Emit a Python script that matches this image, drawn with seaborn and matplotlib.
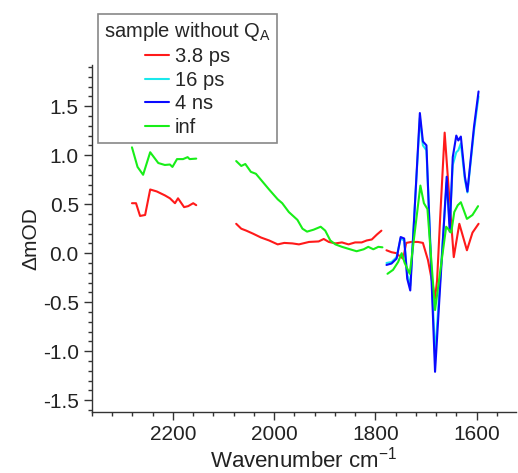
import pandas as pd
import seaborn as sns
import matplotlib.pyplot as plt
from matplotlib.ticker import MultipleLocator

# series labels and colours (legend order)
LABELS = ["3.8 ps", "16 ps", "4 ns", "inf"]
COLORS = {"3.8 ps": "#ff1a1a", "16 ps": "#1ae8ec", "4 ns": "#0a0aff", "inf": "#18ee18"}

# --- segment 1 (2280-2150 cm-1) ---
WN_RED_1 = [2281, 2273, 2265, 2255, 2245, 2232, 2216, 2206, 2196, 2190, 2178, 2170, 2160, 2154]
RED_1 = [0.51, 0.51, 0.38, 0.39, 0.65, 0.63, 0.59, 0.56, 0.51, 0.56, 0.47, 0.48, 0.51, 0.49]
WN_GRN_1 = [2281, 2270, 2259, 2245, 2229, 2216, 2206, 2201, 2192, 2180, 2171, 2167, 2154]
GRN_1 = [1.08, 0.88, 0.80, 1.03, 0.92, 0.90, 0.905, 0.88, 0.96, 0.96, 0.98, 0.96, 0.965]

# --- segment 2 (2075-1785 cm-1) ---
WN_RED_2 = [2075, 2065, 2055, 2042, 2026, 2010, 1993, 1980, 1964, 1951, 1931, 1912,
            1902, 1892, 1879, 1866, 1853, 1840, 1827, 1817, 1807, 1797, 1788]
RED_2 = [0.30, 0.25, 0.23, 0.20, 0.16, 0.13, 0.09, 0.105, 0.10, 0.09, 0.115, 0.12,
         0.145, 0.115, 0.10, 0.11, 0.09, 0.11, 0.11, 0.13, 0.14, 0.19, 0.23]
WN_GRN_2 = [2075, 2065, 2057, 2046, 2036, 2023, 2010, 1993, 1984, 1971, 1954, 1944, 1935,
            1922, 1908, 1899, 1889, 1879, 1866, 1850, 1837, 1823, 1814, 1804, 1794, 1786]
GRN_2 = [0.94, 0.89, 0.91, 0.83, 0.81, 0.73, 0.65, 0.55, 0.51, 0.42, 0.34, 0.25, 0.22,
         0.24, 0.27, 0.23, 0.13, 0.09, 0.065, 0.04, 0.02, 0.04, 0.065, 0.04, 0.065, 0.06]

# --- segment 3 (1778-1595 cm-1) ---
WN_RED_3 = [1778, 1768, 1758, 1752, 1745, 1739, 1729, 1716, 1706, 1696, 1686, 1682,
            1678, 1672, 1663, 1655, 1645, 1634, 1619, 1608, 1596]
RED_3 = [0.03, 0.01, 0.0, -0.03, -0.055, 0.105, 0.115, 0.115, 0.105, -0.07, -0.34, -0.46,
         -0.28, 0.35, 1.23, 0.65, -0.04, 0.30, 0.03, 0.21, 0.30]
WN_BLU_3 = [1778, 1768, 1758, 1750, 1743, 1737, 1731, 1712, 1706, 1699, 1682, 1659,
            1653, 1647, 1640, 1636, 1631, 1623, 1618, 1605, 1596]
CYN_3 = [-0.10, -0.09, -0.04, 0.15, 0.13, -0.22, -0.33, 1.38, 1.10, 1.05, -1.05, 0.72,
         0.30, 0.90, 1.03, 1.05, 1.12, 0.75, 0.62, 1.25, 1.60]
BLU_3 = [-0.12, -0.105, -0.055, 0.165, 0.15, -0.26, -0.38, 1.43, 1.14, 1.10, -1.21, 0.78,
         0.22, 0.98, 1.20, 1.15, 1.19, 0.78, 0.63, 1.29, 1.65]
WN_GRN_3 = [1776, 1765, 1755, 1748, 1742, 1732, 1711, 1704, 1697, 1682, 1660, 1650,
            1644, 1637, 1631, 1619, 1608, 1597]
GRN_3 = [-0.21, -0.17, -0.09, 0.0, -0.10, -0.21, 0.69, 0.51, 0.45, -0.58, 0.27, 0.21,
         0.42, 0.49, 0.52, 0.35, 0.39, 0.48]


def piece(label, seg, wn, vals):
    return pd.DataFrame({"wn": wn, "dOD": vals, "series": label, "segment": seg})


df = pd.concat([
    piece("3.8 ps", 1, WN_RED_1, RED_1),
    piece("3.8 ps", 2, WN_RED_2, RED_2),
    piece("3.8 ps", 3, WN_RED_3, RED_3),
    piece("16 ps", 3, WN_BLU_3, CYN_3),
    piece("4 ns", 3, WN_BLU_3, BLU_3),
    piece("inf", 1, WN_GRN_1, GRN_1),
    piece("inf", 2, WN_GRN_2, GRN_2),
    piece("inf", 3, WN_GRN_3, GRN_3),
], ignore_index=True)

sns.set_style("ticks")
plt.rcParams['font.family'] = ['Liberation Sans', 'DejaVu Sans']
plt.rcParams['mathtext.fontset'] = 'custom'
plt.rcParams['mathtext.rm'] = 'Liberation Sans'
plt.rcParams['axes.unicode_minus'] = False

fig = plt.figure(figsize=(5.18, 4.73), dpi=100)
ax = fig.add_axes([92 / 518, 1 - 412 / 473, (516 - 92) / 518, (412 - 65) / 473])

sns.lineplot(data=df, x="wn", y="dOD", hue="series", units="segment", estimator=None,
             hue_order=LABELS, palette=COLORS, sort=False, lw=1.5, ax=ax)

ax.set_xlim(2360, 1522)
ax.set_ylim(-1.62, 1.92)
ax.xaxis.set_major_locator(MultipleLocator(200))
ax.xaxis.set_minor_locator(MultipleLocator(40))
ax.yaxis.set_major_locator(MultipleLocator(0.5))
ax.yaxis.set_minor_locator(MultipleLocator(0.1))
ax.yaxis.set_major_formatter(lambda v, p: f"{v:.1f}")

sns.despine(ax=ax)
for sp in ax.spines.values():
    sp.set_color("#333333")
    sp.set_linewidth(1.0)
ax.tick_params(which="major", length=6, width=1, direction="out", labelsize=15,
               color="#333333", labelcolor="#222222")
ax.tick_params(which="minor", length=3, width=1, direction="out", color="#333333")

ax.set_xlabel("Wavenumber cm$^{-1}$", fontsize=16, color="#222222", labelpad=2)
ax.set_ylabel("\u0394mOD", fontsize=15, color="#222222", labelpad=2)

handles, labels = ax.get_legend_handles_labels()
ax.get_legend().remove()
leg = fig.legend(handles, labels, title="sample without Q$_\\mathregular{A}$",
                 loc="upper left", bbox_to_anchor=(98 / 518, 1 - 14 / 473),
                 bbox_transform=fig.transFigure, borderaxespad=0,
                 frameon=True, fancybox=False, edgecolor="#888888", framealpha=1,
                 fontsize=14.5, title_fontsize=14.5, handlelength=1.2, handletextpad=0.3,
                 labelspacing=0.22, borderpad=0.3, alignment="center")
leg.get_frame().set_linewidth(1.2)

fig.savefig("out.png", dpi=100)
